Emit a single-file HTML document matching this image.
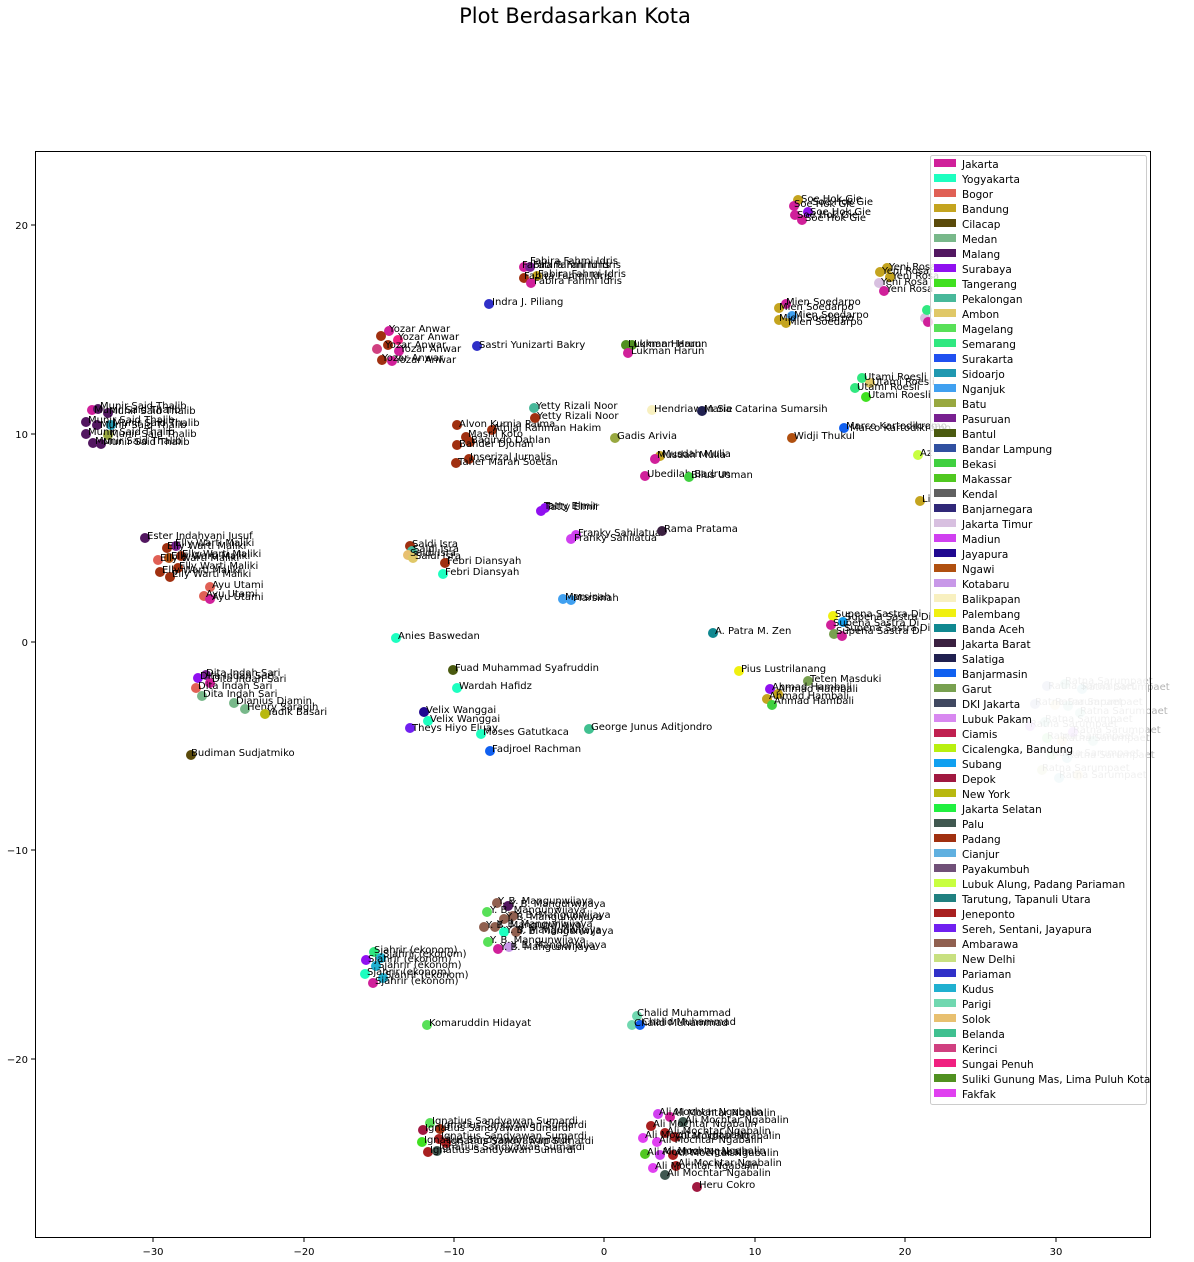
<!DOCTYPE html>
<html><head><meta charset="utf-8"><style>
html,body{margin:0;padding:0;background:#fff}
svg{display:block;font-family:"DejaVu Sans","Liberation Sans",sans-serif}
.l{font-size:10px;fill:#000}
.f{font-size:10px;fill:#000;opacity:.3}
.t{font-size:10px;fill:#000}
.g{font-size:10.5px;fill:#000}
</style></head><body>
<svg width="1194" height="1262" viewBox="0 0 1194 1262" xmlns="http://www.w3.org/2000/svg">
<text x="575" y="23" font-size="21" text-anchor="middle">Plot Berdasarkan Kota</text>
<rect x="35.5" y="151.5" width="1115" height="1086" fill="none" stroke="#000" stroke-width="1"/>
<g stroke="#000">
<line x1="153" y1="1238" x2="153" y2="1242"/><line x1="304" y1="1238" x2="304" y2="1242"/><line x1="454" y1="1238" x2="454" y2="1242"/><line x1="604" y1="1238" x2="604" y2="1242"/><line x1="755" y1="1238" x2="755" y2="1242"/><line x1="905" y1="1238" x2="905" y2="1242"/><line x1="1056" y1="1238" x2="1056" y2="1242"/>
<line x1="31" y1="225" x2="35" y2="225"/><line x1="31" y1="434" x2="35" y2="434"/><line x1="31" y1="642" x2="35" y2="642"/><line x1="31" y1="850" x2="35" y2="850"/><line x1="31" y1="1059" x2="35" y2="1059"/>
</g>
<g class="t" text-anchor="middle">
<text x="153" y="1255">−30</text><text x="304" y="1255">−20</text><text x="454" y="1255">−10</text><text x="604" y="1255">0</text><text x="755" y="1255">10</text><text x="905" y="1255">20</text><text x="1056" y="1255">30</text>
</g>
<g class="t" text-anchor="end">
<text x="28" y="229">20</text><text x="28" y="438">10</text><text x="28" y="646">0</text><text x="28" y="854">−10</text><text x="28" y="1063">−20</text>
</g>

<g opacity="0.25">
<circle cx="1047" cy="686" r="5" fill="#3050a0"/><circle cx="1065" cy="684" r="5" fill="#48b89a"/><circle cx="1082" cy="689" r="5" fill="#2098b0"/>
<circle cx="1035" cy="704" r="5" fill="#3050a0"/><circle cx="1055" cy="705" r="5" fill="#e0c868"/><circle cx="1068" cy="706" r="5" fill="#48b89a"/>
<circle cx="1080" cy="713" r="5" fill="#48b89a"/><circle cx="1030" cy="726" r="5" fill="#9010f0"/><circle cx="1045" cy="722" r="5" fill="#48b89a"/>
<circle cx="1073" cy="732" r="5" fill="#9010f0"/><circle cx="1047" cy="738" r="5" fill="#40d040"/><circle cx="1062" cy="741" r="5" fill="#e0c868"/>
<circle cx="1052" cy="755" r="5" fill="#40d040"/><circle cx="1067" cy="758" r="5" fill="#2098b0"/><circle cx="1042" cy="770" r="5" fill="#98a840"/>
<circle cx="1059" cy="778" r="5" fill="#2098b0"/><circle cx="1078" cy="775" r="5" fill="#e0c868"/><circle cx="1093" cy="741" r="5" fill="#48b89a"/>
</g>
<g class="f">
<text x="1065" y="684">Ratna Sarumpaet</text><text x="1048" y="689">Ratna Sarumpaet</text><text x="1082" y="690">Ratna Sarumpaet</text>
<text x="1035" y="705">Ratna Sarumpaet</text><text x="1055" y="705">Ratna Sarumpaet</text><text x="1080" y="714">Ratna Sarumpaet</text>
<text x="1045" y="722">Ratna Sarumpaet</text><text x="1030" y="727">Ratna Sarumpaet</text><text x="1073" y="733">Ratna Sarumpaet</text>
<text x="1047" y="739">Ratna Sarumpaet</text><text x="1062" y="741">Ratna Sarumpaet</text><text x="1052" y="756">Ratna Sarumpaet</text>
<text x="1067" y="758">Ratna Sarumpaet</text><text x="1042" y="771">Ratna Sarumpaet</text><text x="1059" y="778">Ratna Sarumpaet</text>
</g>

<g>
<circle cx="798" cy="200" r="5" fill="#c4a41f"/><circle cx="794" cy="206" r="5" fill="#d0209a"/><circle cx="808" cy="212" r="5" fill="#9010f0"/><circle cx="795" cy="215" r="5" fill="#d0209a"/><circle cx="802" cy="220" r="5" fill="#d0209a"/>
<text class="l" x="801" y="202">Soe Hok Gie</text><text class="l" x="812" y="205">Soe Hok Gie</text><text class="l" x="794" y="207">Soe Hok Gie</text><text class="l" x="810" y="215">Soe Hok Gie</text><text class="l" x="797" y="218">Soe Hok Gie</text><text class="l" x="805" y="221">Soe Hok Gie</text>
<circle cx="524" cy="267" r="5" fill="#d0209a"/><circle cx="530" cy="267" r="5" fill="#782090"/><circle cx="537" cy="276" r="5" fill="#c4a41f"/><circle cx="524" cy="278" r="5" fill="#a03010"/><circle cx="531" cy="283" r="5" fill="#d0209a"/>
<text class="l" x="530" y="264">Fabira Fahmi Idris</text><text class="l" x="522" y="268">Fabira Fahmi Idris</text><text class="l" x="533" y="268">Fabira Fahmi Idris</text><text class="l" x="524" y="279">Fabira Fahmi Idris</text><text class="l" x="538" y="277">Fabira Fahmi Idris</text><text class="l" x="534" y="284">Fabira Fahmi Idris</text>
<circle cx="489" cy="304" r="5" fill="#3030c8"/><text class="l" x="492" y="305">Indra J. Piliang</text>
<circle cx="389" cy="331" r="5" fill="#d0209a"/><circle cx="381" cy="336" r="5" fill="#a03010"/><circle cx="398" cy="340" r="5" fill="#f02080"/><circle cx="388" cy="345" r="5" fill="#a03010"/><circle cx="377" cy="349" r="5" fill="#d04080"/><circle cx="399" cy="351" r="5" fill="#d0209a"/><circle cx="382" cy="360" r="5" fill="#a03010"/><circle cx="392" cy="361" r="5" fill="#d0209a"/>
<text class="l" x="389" y="332">Yozar Anwar</text><text class="l" x="398" y="340">Yozar Anwar</text><text class="l" x="385" y="348">Yozar Anwar</text><text class="l" x="400" y="352">Yozar Anwar</text><text class="l" x="382" y="361">Yozar Anwar</text><text class="l" x="395" y="363">Yozar Anwar</text>
<circle cx="477" cy="346" r="5" fill="#3030c8"/><text class="l" x="479" y="348">Sastri Yunizarti Bakry</text>
<circle cx="626" cy="345" r="5" fill="#509020"/><circle cx="632" cy="345" r="5" fill="#509020"/><circle cx="628" cy="353" r="5" fill="#d0209a"/>
<text class="l" x="628" y="347">Lukman Harun</text><text class="l" x="634" y="347">Lukman Harun</text><text class="l" x="631" y="354">Lukman Harun</text>
<circle cx="786" cy="304" r="5" fill="#d0209a"/><circle cx="779" cy="308" r="5" fill="#c4a41f"/><circle cx="792" cy="316" r="5" fill="#40a0f0"/><circle cx="779" cy="320" r="5" fill="#c4a41f"/><circle cx="786" cy="323" r="5" fill="#c4a41f"/>
<text class="l" x="786" y="305">Mien Soedarpo</text><text class="l" x="779" y="310">Mien Soedarpo</text><text class="l" x="794" y="318">Mien Soedarpo</text><text class="l" x="779" y="321">Mien Soedarpo</text><text class="l" x="788" y="325">Mien Soedarpo</text>
<circle cx="887" cy="268" r="5" fill="#c4a41f"/><circle cx="880" cy="272" r="5" fill="#c4a41f"/><circle cx="890" cy="277" r="5" fill="#c4a41f"/><circle cx="879" cy="283" r="5" fill="#d8c0e0"/><circle cx="884" cy="291" r="5" fill="#d0209a"/>
<text class="l" x="889" y="270">Yeni Rosa</text><text class="l" x="882" y="274">Yeni Rosa</text><text class="l" x="892" y="279">Yeni Rosa</text><text class="l" x="881" y="285">Yeni Rosa</text><text class="l" x="886" y="292">Yeni Rosa</text>
<circle cx="925" cy="318" r="5" fill="#d8c0e0"/><circle cx="928" cy="322" r="5" fill="#d0209a"/><circle cx="927" cy="310" r="5" fill="#30e880"/>
<circle cx="862" cy="378" r="5" fill="#30e880"/><circle cx="870" cy="383" r="5" fill="#e0c868"/><circle cx="855" cy="388" r="5" fill="#30e880"/><circle cx="866" cy="397" r="5" fill="#40e020"/>
<text class="l" x="864" y="380">Utami Roesli</text><text class="l" x="872" y="385">Utami Roesli</text><text class="l" x="857" y="390">Utami Roesli</text><text class="l" x="868" y="398">Utami Roesli</text>
<circle cx="92" cy="410" r="5" fill="#d0209a"/><circle cx="98" cy="409" r="5" fill="#521760"/><circle cx="108" cy="413" r="5" fill="#521760"/><circle cx="86" cy="422" r="5" fill="#521760"/><circle cx="97" cy="425" r="5" fill="#521760"/><circle cx="111" cy="425" r="5" fill="#2098b0"/><circle cx="86" cy="434" r="5" fill="#521760"/><circle cx="108" cy="435" r="5" fill="#98a840"/><circle cx="93" cy="443" r="5" fill="#521760"/><circle cx="101" cy="444" r="5" fill="#521760"/>
<text class="l" x="100" y="409">Munir Said Thalib</text><text class="l" x="94" y="413">Munir Said Thalib</text><text class="l" x="109" y="414">Munir Said Thalib</text><text class="l" x="88" y="423">Munir Said Thalib</text><text class="l" x="113" y="426">Munir Said Thalib</text><text class="l" x="100" y="428">Munir Said Thalib</text><text class="l" x="88" y="435">Munir Said Thalib</text><text class="l" x="110" y="437">Munir Said Thalib</text><text class="l" x="95" y="444">Munir Said Thalib</text><text class="l" x="103" y="445">Munir Said Thalib</text>
<circle cx="457" cy="425" r="5" fill="#a03010"/><circle cx="492" cy="430" r="5" fill="#a03010"/><circle cx="466" cy="437" r="5" fill="#a03010"/><circle cx="470" cy="442" r="5" fill="#a03010"/><circle cx="457" cy="445" r="5" fill="#a03010"/><circle cx="469" cy="459" r="5" fill="#a03010"/><circle cx="456" cy="463" r="5" fill="#a03010"/>
<text class="l" x="459" y="427">Alvon Kurnia Palma</text><text class="l" x="493" y="431">Afrijal Rahman Hakim</text><text class="l" x="468" y="437">Masril Koto</text><text class="l" x="471" y="443">Bagindo Dahlan</text><text class="l" x="459" y="447">Bahder Djohan</text><text class="l" x="470" y="460">Inserizal Jurnalis</text><text class="l" x="458" y="465">Taher Marah Soetan</text>
<circle cx="534" cy="408" r="5" fill="#48b89a"/><circle cx="535" cy="418" r="5" fill="#a03010"/>
<text class="l" x="536" y="409">Yetty Rizali Noor</text><text class="l" x="537" y="419">Yetty Rizali Noor</text>
<circle cx="652" cy="410" r="5" fill="#f8f0c0"/><text class="l" x="654" y="412">Hendriawan Sie</text>
<circle cx="702" cy="411" r="5" fill="#202050"/><text class="l" x="704" y="412">Maria Catarina Sumarsih</text>
<circle cx="615" cy="438" r="5" fill="#98a840"/><text class="l" x="617" y="439">Gadis Arivia</text>
<circle cx="844" cy="428" r="5" fill="#1060f0"/><text class="l" x="846" y="429">Marco Kartodikromo</text><text class="l" x="850" y="431">Marco Kartodikromo</text>
<circle cx="792" cy="438" r="5" fill="#b05010"/><text class="l" x="794" y="439">Widji Thukul</text>
<circle cx="918" cy="455" r="5" fill="#c8ff40"/><text class="l" x="920" y="456">Az</text>
<circle cx="660" cy="456" r="5" fill="#c4a41f"/><circle cx="655" cy="459" r="5" fill="#d0209a"/>
<text class="l" x="657" y="458">Musdah Mulia</text><text class="l" x="662" y="457">Musdah Mulia</text>
<circle cx="645" cy="476" r="5" fill="#d0209a"/><text class="l" x="647" y="477">Ubedilah Badrun</text>
<circle cx="689" cy="477" r="5" fill="#40d040"/><text class="l" x="691" y="478">Bilus Usman</text>
<circle cx="920" cy="501" r="5" fill="#c4a41f"/><text class="l" x="922" y="502">Li</text>
<circle cx="545" cy="508" r="5" fill="#9010f0"/><circle cx="541" cy="511" r="5" fill="#9010f0"/>
<text class="l" x="544" y="509">Tatty Elmir</text><text class="l" x="546" y="510">Tatty Elmir</text>
<circle cx="576" cy="535" r="5" fill="#d040f0"/><circle cx="571" cy="539" r="5" fill="#d040f0"/>
<text class="l" x="578" y="536">Franky Sahilatua</text><text class="l" x="574" y="541">Franky Sahilatua</text>
<circle cx="662" cy="531" r="5" fill="#3a2040"/><text class="l" x="664" y="532">Rama Pratama</text>
<circle cx="145" cy="538" r="5" fill="#521760"/><text class="l" x="147" y="539">Ester Indahyani Jusuf</text>
<circle cx="176" cy="546" r="5" fill="#782090"/><circle cx="167" cy="548" r="5" fill="#a03010"/><circle cx="181" cy="556" r="5" fill="#a03010"/><circle cx="169" cy="558" r="5" fill="#b05010"/><circle cx="158" cy="560" r="5" fill="#e06055"/><circle cx="178" cy="568" r="5" fill="#a03010"/><circle cx="160" cy="572" r="5" fill="#a03010"/><circle cx="170" cy="577" r="5" fill="#a03010"/>
<text class="l" x="175" y="546">Elly Warti Maliki</text><text class="l" x="167" y="549">Elly Warti Maliki</text><text class="l" x="182" y="557">Elly Warti Maliki</text><text class="l" x="171" y="559">Elly Warti Maliki</text><text class="l" x="160" y="561">Elly Warti Maliki</text><text class="l" x="179" y="569">Elly Warti Maliki</text><text class="l" x="162" y="573">Elly Warti Maliki</text><text class="l" x="172" y="577">Elly Warti Maliki</text>
<circle cx="410" cy="546" r="5" fill="#a03010"/><circle cx="412" cy="551" r="5" fill="#48b89a"/><circle cx="408" cy="555" r="5" fill="#e8c070"/><circle cx="413" cy="558" r="5" fill="#e0c868"/>
<text class="l" x="412" y="547">Saldi Isra</text><text class="l" x="413" y="552">Saldi Isra</text><text class="l" x="410" y="556">Saldi Isra</text><text class="l" x="415" y="559">Saldi Isra</text>
<circle cx="445" cy="563" r="5" fill="#a03010"/><circle cx="443" cy="574" r="5" fill="#1dffc0"/>
<text class="l" x="447" y="564">Febri Diansyah</text><text class="l" x="445" y="575">Febri Diansyah</text>
<circle cx="210" cy="587" r="5" fill="#e06055"/><circle cx="204" cy="596" r="5" fill="#e06055"/><circle cx="210" cy="599" r="5" fill="#d0209a"/>
<text class="l" x="212" y="588">Ayu Utami</text><text class="l" x="206" y="597">Ayu Utami</text><text class="l" x="212" y="600">Ayu Utami</text>
<circle cx="563" cy="599" r="5" fill="#40a0f0"/><circle cx="571" cy="600" r="5" fill="#40a0f0"/>
<text class="l" x="565" y="600">Marsinah</text><text class="l" x="573" y="601">Marsinah</text>
<circle cx="396" cy="638" r="5" fill="#1dffc0"/><text class="l" x="398" y="639">Anies Baswedan</text>
<circle cx="713" cy="633" r="5" fill="#108890"/><text class="l" x="715" y="634">A. Patra M. Zen</text>
<circle cx="833" cy="616" r="5" fill="#f0f010"/><circle cx="843" cy="622" r="5" fill="#10a0f0"/><circle cx="831" cy="625" r="5" fill="#d0209a"/><circle cx="834" cy="634" r="5" fill="#78a050"/><circle cx="842" cy="636" r="5" fill="#d0209a"/>
<text class="l" x="835" y="617">Supena Sastra Di</text><text class="l" x="845" y="620">Supena Sastra Di</text><text class="l" x="833" y="626">Supena Sastra Di</text><text class="l" x="836" y="634">Supena Sastra Di</text><text class="l" x="844" y="631">Supena Sastra Di</text>
<circle cx="453" cy="670" r="5" fill="#4a5a10"/><text class="l" x="455" y="671">Fuad Muhammad Syafruddin</text>
<circle cx="739" cy="671" r="5" fill="#f0f010"/><text class="l" x="741" y="672">Pius Lustrilanang</text>
<circle cx="808" cy="681" r="5" fill="#78a050"/><text class="l" x="810" y="682">Teten Masduki</text>
<circle cx="770" cy="689" r="5" fill="#9010f0"/><circle cx="778" cy="694" r="5" fill="#c4a41f"/><circle cx="767" cy="699" r="5" fill="#c4a41f"/><circle cx="772" cy="705" r="5" fill="#40d040"/>
<text class="l" x="772" y="690">Ahmad Hambali</text><text class="l" x="778" y="692">Ahmad Hambali</text><text class="l" x="769" y="699">Ahmad Hambali</text><text class="l" x="774" y="704">Ahmad Hambali</text>
<circle cx="206" cy="675" r="5" fill="#782090"/><circle cx="198" cy="678" r="5" fill="#9010f0"/><circle cx="210" cy="683" r="5" fill="#d0209a"/><circle cx="196" cy="688" r="5" fill="#e06055"/><circle cx="202" cy="696" r="5" fill="#78b88a"/>
<text class="l" x="206" y="676">Dita Indah Sari</text><text class="l" x="200" y="679">Dita Indah Sari</text><text class="l" x="212" y="682">Dita Indah Sari</text><text class="l" x="198" y="689">Dita Indah Sari</text><text class="l" x="203" y="697">Dita Indah Sari</text>
<circle cx="234" cy="703" r="5" fill="#78b88a"/><text class="l" x="236" y="704">Djanius Djamin</text>
<circle cx="245" cy="709" r="5" fill="#78b88a"/><text class="l" x="247" y="710">Henry Saragih</text>
<circle cx="265" cy="714" r="5" fill="#b8b810"/><text class="l" x="267" y="715">Yadik Basari</text>
<circle cx="457" cy="688" r="5" fill="#1dffc0"/><text class="l" x="459" y="689">Wardah Hafidz</text>
<circle cx="424" cy="712" r="5" fill="#200890"/><circle cx="428" cy="721" r="5" fill="#1dffc0"/>
<text class="l" x="426" y="713">Velix Wanggai</text><text class="l" x="430" y="722">Velix Wanggai</text>
<circle cx="410" cy="728" r="5" fill="#7020f0"/><text class="l" x="412" y="731">Theys Hiyo Eluay</text>
<circle cx="481" cy="734" r="5" fill="#1dffc0"/><text class="l" x="483" y="735">Moses Gatutkaca</text>
<circle cx="589" cy="729" r="5" fill="#40c090"/><text class="l" x="591" y="730">George Junus Aditjondro</text>
<circle cx="490" cy="751" r="5" fill="#1060f0"/><text class="l" x="492" y="752">Fadjroel Rachman</text>
<circle cx="191" cy="755" r="5" fill="#5a4a0a"/><text class="l" x="191" y="756">Budiman Sudjatmiko</text>
<circle cx="497" cy="903" r="5" fill="#906050"/><circle cx="508" cy="906" r="5" fill="#521760"/><circle cx="487" cy="912" r="5" fill="#58e058"/><circle cx="513" cy="916" r="5" fill="#906050"/><circle cx="504" cy="919" r="5" fill="#906050"/><circle cx="484" cy="927" r="5" fill="#906050"/><circle cx="495" cy="927" r="5" fill="#906050"/><circle cx="504" cy="932" r="5" fill="#1dffc0"/><circle cx="516" cy="932" r="5" fill="#906050"/><circle cx="488" cy="942" r="5" fill="#58e058"/><circle cx="498" cy="949" r="5" fill="#d0209a"/><circle cx="509" cy="947" r="5" fill="#c898e8"/>
<text class="l" x="498" y="904">Y. B. Mangunwijaya</text><text class="l" x="510" y="907">Y. B. Mangunwijaya</text><text class="l" x="490" y="913">Y. B. Mangunwijaya</text><text class="l" x="515" y="918">Y. B. Mangunwijaya</text><text class="l" x="506" y="920">Y. B. Mangunwijaya</text><text class="l" x="486" y="928">Y. B. Mangunwijaya</text><text class="l" x="497" y="927">Y. B. Mangunwijaya</text><text class="l" x="506" y="933">Y. B. Mangunwijaya</text><text class="l" x="518" y="934">Y. B. Mangunwijaya</text><text class="l" x="490" y="943">Y. B. Mangunwijaya</text><text class="l" x="500" y="950">Y. B. Mangunwijaya</text><text class="l" x="511" y="948">Y. B. Mangunwijaya</text>
<circle cx="374" cy="952" r="5" fill="#30e880"/><circle cx="366" cy="960" r="5" fill="#9010f0"/><circle cx="381" cy="958" r="5" fill="#20b0d0"/><circle cx="376" cy="966" r="5" fill="#20b0d0"/><circle cx="365" cy="974" r="5" fill="#1dffc0"/><circle cx="383" cy="978" r="5" fill="#20b0d0"/><circle cx="373" cy="983" r="5" fill="#d0209a"/>
<text class="l" x="374" y="953">Sjahrir (ekonom)</text><text class="l" x="383" y="957">Sjahrir (ekonom)</text><text class="l" x="368" y="962">Sjahrir (ekonom)</text><text class="l" x="378" y="968">Sjahrir (ekonom)</text><text class="l" x="367" y="975">Sjahrir (ekonom)</text><text class="l" x="385" y="978">Sjahrir (ekonom)</text><text class="l" x="375" y="984">Sjahrir (ekonom)</text>
<circle cx="427" cy="1025" r="5" fill="#58e058"/><text class="l" x="429" y="1026">Komaruddin Hidayat</text>
<circle cx="637" cy="1016" r="5" fill="#70d8b0"/><circle cx="632" cy="1025" r="5" fill="#70d8b0"/><circle cx="640" cy="1025" r="5" fill="#1060f0"/>
<text class="l" x="637" y="1016">Chalid Muhammad</text><text class="l" x="634" y="1026">Chalid Muhammad</text><text class="l" x="642" y="1025">Chalid Muhammad</text>
<circle cx="430" cy="1123" r="5" fill="#58e058"/><circle cx="423" cy="1130" r="5" fill="#a01840"/><circle cx="440" cy="1129" r="5" fill="#a03010"/><circle cx="439" cy="1139" r="5" fill="#a82020"/><circle cx="422" cy="1142" r="5" fill="#40e020"/><circle cx="446" cy="1143" r="5" fill="#a82020"/><circle cx="428" cy="1152" r="5" fill="#a82020"/><circle cx="437" cy="1151" r="5" fill="#405850"/>
<text class="l" x="432" y="1124">Ignatius Sandyawan Sumardi</text><text class="l" x="441" y="1128">Ignatius Sandyawan Sumardi</text><text class="l" x="425" y="1131">Ignatius Sandyawan Sumardi</text><text class="l" x="441" y="1139">Ignatius Sandyawan Sumardi</text><text class="l" x="424" y="1143">Ignatius Sandyawan Sumardi</text><text class="l" x="448" y="1144">Ignatius Sandyawan Sumardi</text><text class="l" x="430" y="1153">Ignatius Sandyawan Sumardi</text><text class="l" x="439" y="1150">Ignatius Sandyawan Sumardi</text>
<circle cx="658" cy="1114" r="5" fill="#d040f0"/><circle cx="670" cy="1117" r="5" fill="#d0209a"/><circle cx="683" cy="1122" r="5" fill="#405850"/><circle cx="651" cy="1126" r="5" fill="#a82020"/><circle cx="665" cy="1133" r="5" fill="#a82020"/><circle cx="675" cy="1137" r="5" fill="#a82020"/><circle cx="643" cy="1138" r="5" fill="#e040f0"/><circle cx="657" cy="1142" r="5" fill="#e040f0"/><circle cx="645" cy="1154" r="5" fill="#50c820"/><circle cx="660" cy="1155" r="5" fill="#d040f0"/><circle cx="673" cy="1155" r="5" fill="#a82020"/><circle cx="653" cy="1168" r="5" fill="#e040f0"/><circle cx="676" cy="1166" r="5" fill="#a82020"/><circle cx="665" cy="1175" r="5" fill="#405850"/>
<text class="l" x="659" y="1115">Ali Mochtar Ngabalin</text><text class="l" x="672" y="1116">Ali Mochtar Ngabalin</text><text class="l" x="685" y="1123">Ali Mochtar Ngabalin</text><text class="l" x="653" y="1127">Ali Mochtar Ngabalin</text><text class="l" x="667" y="1134">Ali Mochtar Ngabalin</text><text class="l" x="677" y="1139">Ali Mochtar Ngabalin</text><text class="l" x="645" y="1138">Ali Mochtar Ngabalin</text><text class="l" x="659" y="1143">Ali Mochtar Ngabalin</text><text class="l" x="647" y="1155">Ali Mochtar Ngabalin</text><text class="l" x="662" y="1154">Ali Mochtar Ngabalin</text><text class="l" x="675" y="1156">Ali Mochtar Ngabalin</text><text class="l" x="655" y="1169">Ali Mochtar Ngabalin</text><text class="l" x="678" y="1166">Ali Mochtar Ngabalin</text><text class="l" x="667" y="1176">Ali Mochtar Ngabalin</text>
<circle cx="697" cy="1187" r="5" fill="#a01840"/><text class="l" x="699" y="1188">Heru Cokro</text>
</g>

<rect x="930.5" y="155.5" width="216" height="949" rx="2" fill="#fff" fill-opacity="0.8" stroke="#ccc"/>
<g>
<rect x="934" y="159" width="22" height="8" fill="#d0209a"/><text class="g" x="962" y="168">Jakarta</text>
<rect x="934" y="174" width="22" height="8" fill="#1dffc0"/><text class="g" x="962" y="183">Yogyakarta</text>
<rect x="934" y="189" width="22" height="8" fill="#e06055"/><text class="g" x="962" y="198">Bogor</text>
<rect x="934" y="204" width="22" height="8" fill="#c4a41f"/><text class="g" x="962" y="213">Bandung</text>
<rect x="934" y="219" width="22" height="8" fill="#5a4a0a"/><text class="g" x="962" y="228">Cilacap</text>
<rect x="934" y="234" width="22" height="8" fill="#78b88a"/><text class="g" x="962" y="243">Medan</text>
<rect x="934" y="249" width="22" height="8" fill="#521760"/><text class="g" x="962" y="258">Malang</text>
<rect x="934" y="264" width="22" height="8" fill="#9010f0"/><text class="g" x="962" y="273">Surabaya</text>
<rect x="934" y="279" width="22" height="8" fill="#40e020"/><text class="g" x="962" y="288">Tangerang</text>
<rect x="934" y="294" width="22" height="8" fill="#48b89a"/><text class="g" x="962" y="303">Pekalongan</text>
<rect x="934" y="309" width="22" height="8" fill="#e0c868"/><text class="g" x="962" y="318">Ambon</text>
<rect x="934" y="324" width="22" height="8" fill="#58e058"/><text class="g" x="962" y="333">Magelang</text>
<rect x="934" y="339" width="22" height="8" fill="#30e880"/><text class="g" x="962" y="348">Semarang</text>
<rect x="934" y="354" width="22" height="8" fill="#2050f0"/><text class="g" x="962" y="363">Surakarta</text>
<rect x="934" y="369" width="22" height="8" fill="#2098b0"/><text class="g" x="962" y="378">Sidoarjo</text>
<rect x="934" y="384" width="22" height="8" fill="#40a0f0"/><text class="g" x="962" y="393">Nganjuk</text>
<rect x="934" y="399" width="22" height="8" fill="#98a840"/><text class="g" x="962" y="408">Batu</text>
<rect x="934" y="414" width="22" height="8" fill="#782090"/><text class="g" x="962" y="423">Pasuruan</text>
<rect x="934" y="429" width="22" height="8" fill="#4a5a10"/><text class="g" x="962" y="438">Bantul</text>
<rect x="934" y="444" width="22" height="8" fill="#3050a0"/><text class="g" x="962" y="453">Bandar Lampung</text>
<rect x="934" y="459" width="22" height="8" fill="#40d040"/><text class="g" x="962" y="468">Bekasi</text>
<rect x="934" y="474" width="22" height="8" fill="#50c820"/><text class="g" x="962" y="483">Makassar</text>
<rect x="934" y="489" width="22" height="8" fill="#606060"/><text class="g" x="962" y="498">Kendal</text>
<rect x="934" y="504" width="22" height="8" fill="#302878"/><text class="g" x="962" y="513">Banjarnegara</text>
<rect x="934" y="519" width="22" height="8" fill="#d8c0e0"/><text class="g" x="962" y="528">Jakarta Timur</text>
<rect x="934" y="534" width="22" height="8" fill="#d040f0"/><text class="g" x="962" y="543">Madiun</text>
<rect x="934" y="549" width="22" height="8" fill="#200890"/><text class="g" x="962" y="558">Jayapura</text>
<rect x="934" y="564" width="22" height="8" fill="#b05010"/><text class="g" x="962" y="573">Ngawi</text>
<rect x="934" y="579" width="22" height="8" fill="#c898e8"/><text class="g" x="962" y="588">Kotabaru</text>
<rect x="934" y="594" width="22" height="8" fill="#f8f0c0"/><text class="g" x="962" y="603">Balikpapan</text>
<rect x="934" y="609" width="22" height="8" fill="#f0f010"/><text class="g" x="962" y="618">Palembang</text>
<rect x="934" y="624" width="22" height="8" fill="#108890"/><text class="g" x="962" y="633">Banda Aceh</text>
<rect x="934" y="639" width="22" height="8" fill="#3a2040"/><text class="g" x="962" y="648">Jakarta Barat</text>
<rect x="934" y="654" width="22" height="8" fill="#202050"/><text class="g" x="962" y="663">Salatiga</text>
<rect x="934" y="669" width="22" height="8" fill="#1060f0"/><text class="g" x="962" y="678">Banjarmasin</text>
<rect x="934" y="684" width="22" height="8" fill="#78a050"/><text class="g" x="962" y="693">Garut</text>
<rect x="934" y="699" width="22" height="8" fill="#404860"/><text class="g" x="962" y="708">DKI Jakarta</text>
<rect x="934" y="714" width="22" height="8" fill="#d888f0"/><text class="g" x="962" y="723">Lubuk Pakam</text>
<rect x="934" y="729" width="22" height="8" fill="#c02050"/><text class="g" x="962" y="738">Ciamis</text>
<rect x="934" y="744" width="22" height="8" fill="#b8f010"/><text class="g" x="962" y="753">Cicalengka, Bandung</text>
<rect x="934" y="759" width="22" height="8" fill="#10a0f0"/><text class="g" x="962" y="768">Subang</text>
<rect x="934" y="774" width="22" height="8" fill="#a01840"/><text class="g" x="962" y="783">Depok</text>
<rect x="934" y="789" width="22" height="8" fill="#b8b810"/><text class="g" x="962" y="798">New York</text>
<rect x="934" y="804" width="22" height="8" fill="#20f040"/><text class="g" x="962" y="813">Jakarta Selatan</text>
<rect x="934" y="819" width="22" height="8" fill="#405850"/><text class="g" x="962" y="828">Palu</text>
<rect x="934" y="834" width="22" height="8" fill="#a03010"/><text class="g" x="962" y="843">Padang</text>
<rect x="934" y="849" width="22" height="8" fill="#60b0e0"/><text class="g" x="962" y="858">Cianjur</text>
<rect x="934" y="864" width="22" height="8" fill="#705078"/><text class="g" x="962" y="873">Payakumbuh</text>
<rect x="934" y="879" width="22" height="8" fill="#c8ff40"/><text class="g" x="962" y="888">Lubuk Alung, Padang Pariaman</text>
<rect x="934" y="894" width="22" height="8" fill="#208080"/><text class="g" x="962" y="903">Tarutung, Tapanuli Utara</text>
<rect x="934" y="909" width="22" height="8" fill="#a82020"/><text class="g" x="962" y="918">Jeneponto</text>
<rect x="934" y="924" width="22" height="8" fill="#7020f0"/><text class="g" x="962" y="933">Sereh, Sentani, Jayapura</text>
<rect x="934" y="939" width="22" height="8" fill="#906050"/><text class="g" x="962" y="948">Ambarawa</text>
<rect x="934" y="954" width="22" height="8" fill="#c8e080"/><text class="g" x="962" y="963">New Delhi</text>
<rect x="934" y="969" width="22" height="8" fill="#3030c8"/><text class="g" x="962" y="978">Pariaman</text>
<rect x="934" y="984" width="22" height="8" fill="#20b0d0"/><text class="g" x="962" y="993">Kudus</text>
<rect x="934" y="999" width="22" height="8" fill="#70d8b0"/><text class="g" x="962" y="1008">Parigi</text>
<rect x="934" y="1014" width="22" height="8" fill="#e8c070"/><text class="g" x="962" y="1023">Solok</text>
<rect x="934" y="1029" width="22" height="8" fill="#40c090"/><text class="g" x="962" y="1038">Belanda</text>
<rect x="934" y="1044" width="22" height="8" fill="#d04080"/><text class="g" x="962" y="1053">Kerinci</text>
<rect x="934" y="1059" width="22" height="8" fill="#f02080"/><text class="g" x="962" y="1068">Sungai Penuh</text>
<rect x="934" y="1074" width="22" height="8" fill="#509020"/><text class="g" x="962" y="1083">Suliki Gunung Mas, Lima Puluh Kota</text>
<rect x="934" y="1089" width="22" height="8" fill="#e040f0"/><text class="g" x="962" y="1098">Fakfak</text>
</g>
</svg>
</body></html>
